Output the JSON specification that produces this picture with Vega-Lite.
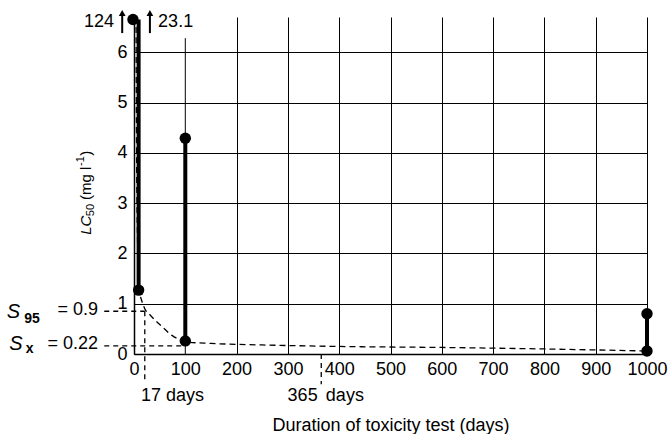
{
  "$schema": "https://vega.github.io/schema/vega-lite/v6.json",
  "autosize": "none",
  "width": 513,
  "height": 337,
  "padding": {"left": 134, "top": 17, "right": 21, "bottom": 80},
  "background": "white",
  "config": {
    "view": {"stroke": null},
    "font": "Liberation Sans",
    "text": {"font": "Liberation Sans", "color": "black"}
  },
  "datasets": {
    "curve": [
      {"day": 4, "lc": 6.7}, {"day": 5, "lc": 4.0}, {"day": 7, "lc": 2.2}, {"day": 10, "lc": 1.3},
      {"day": 16, "lc": 1.03}, {"day": 21, "lc": 0.9}, {"day": 31, "lc": 0.78}, {"day": 55, "lc": 0.54},
      {"day": 74, "lc": 0.37}, {"day": 90, "lc": 0.28}, {"day": 100, "lc": 0.24}, {"day": 150, "lc": 0.21},
      {"day": 250, "lc": 0.18}, {"day": 400, "lc": 0.15}, {"day": 600, "lc": 0.13}, {"day": 800, "lc": 0.1},
      {"day": 1000, "lc": 0.06}
    ],
    "bars": [
      {"day": 9, "lo": 1.27, "hi": 6.65},
      {"day": 100, "lo": 0.26, "hi": 4.29},
      {"day": 1000, "lo": 0.06, "hi": 0.8}
    ],
    "grid100": [
      {"day": 100, "lo": 0, "hi": 6.28}
    ],
    "points": [
      {"day": -2, "lc": 6.65}, {"day": 9, "lc": 1.27}, {"day": 100, "lc": 0.26},
      {"day": 100, "lc": 4.29}, {"day": 1000, "lc": 0.06}, {"day": 1000, "lc": 0.8}
    ],
    "refs": [
      {"x1": -58, "x2": 21, "y1": 0.85, "y2": 0.85},
      {"x1": 21, "x2": 21, "y1": 0.85, "y2": -0.58},
      {"x1": -58, "x2": 100, "y1": 0.16, "y2": 0.16},
      {"x1": 365, "x2": 365, "y1": 0.0, "y2": -0.6}
    ],
    "arrows": [
      {"day": -23, "lo": 6.38, "hi": 6.78},
      {"day": 31, "lo": 6.38, "hi": 6.78}
    ],
    "txtLeft": [
      {"day": 47, "val": 6.6, "label": "23.1"},
      {"day": 13.6, "val": -0.84, "label": "17 days"},
      {"day": 374, "val": -0.84, "label": "days"}
    ],
    "txtRight": [
      {"day": -39, "val": 6.6, "label": "124"},
      {"day": 358, "val": -0.84, "label": "365"},
      {"day": -70, "val": 0.875, "label": "= 0.9"},
      {"day": -70, "val": 0.2, "label": "= 0.22"}
    ],
    "txtItalic": [
      {"day": -248, "val": 0.84, "label": "S"},
      {"day": -243, "val": 0.2, "label": "S"}
    ],
    "txtSub": [
      {"day": -214, "val": 0.7, "label": "95"},
      {"day": -211, "val": 0.1, "label": "x"}
    ],
    "rotItalic": [{"day": -93.6, "val": 2.37, "label": "LC"}],
    "rotNormal": [
      {"day": -93.6, "val": 3.06, "label": "(mg l"},
      {"day": -93.6, "val": 3.94, "label": ")"}
    ],
    "rotSmall": [
      {"day": -84, "val": 2.74, "label": "50"},
      {"day": -103, "val": 3.74, "label": "-1"}
    ]
  },
  "encoding": {
    "x": {
      "field": "day", "type": "quantitative",
      "scale": {"domain": [0, 1000], "nice": false, "zero": false},
      "axis": {
        "values": [0, 100, 200, 300, 400, 500, 600, 700, 800, 900, 1000],
        "format": "d",
        "labelOverlap": false, "labelFlush": false, "labelBound": false,
        "title": "Duration of toxicity test (days)",
        "titleFontSize": 18, "titleFontWeight": "normal", "titleColor": "black",
        "titleFont": "Liberation Sans", "titlePadding": 38,
        "labelFontSize": 18, "labelColor": "black", "labelFont": "Liberation Sans",
        "labelPadding": 6, "ticks": false,
        "grid": true,
        "gridColor": {"condition": {"test": "datum.value === 100", "value": "transparent"}, "value": "black"},
        "gridWidth": 1, "gridOpacity": 1,
        "domainColor": "black", "domainWidth": 1.5
      }
    }
  },
  "layer": [
    {
      "data": {"name": "curve"},
      "mark": {"type": "line", "color": "black", "strokeWidth": 1.3, "strokeDash": [6, 4], "interpolate": "monotone"},
      "encoding": {
        "y": {
          "field": "lc", "type": "quantitative",
          "scale": {"domain": [0, 6.7], "nice": false, "zero": false},
          "axis": {
            "values": [0, 1, 2, 3, 4, 5, 6], "title": null,
            "labelOverlap": false, "labelFlush": false,
            "labelFontSize": 18, "labelColor": "black", "labelFont": "Liberation Sans",
            "labelPadding": 7, "ticks": false,
            "grid": true, "gridColor": "black", "gridWidth": 1, "gridOpacity": 1,
            "domainColor": "black", "domainWidth": 1.5
          }
        }
      }
    },
    {
      "data": {"name": "grid100"},
      "mark": {"type": "rule", "color": "black", "strokeWidth": 1},
      "encoding": {
        "y": {"field": "lo", "type": "quantitative"},
        "y2": {"field": "hi"}
      }
    },
    {
      "data": {"name": "refs"},
      "mark": {"type": "rule", "color": "black", "strokeWidth": 1.3, "strokeDash": [5, 4]},
      "encoding": {
        "x": {"field": "x1", "type": "quantitative"},
        "x2": {"field": "x2"},
        "y": {"field": "y1", "type": "quantitative"},
        "y2": {"field": "y2"}
      }
    },
    {
      "data": {"name": "bars"},
      "mark": {"type": "rule", "color": "black", "strokeWidth": 4},
      "encoding": {
        "y": {"field": "lo", "type": "quantitative"},
        "y2": {"field": "hi"}
      }
    },
    {
      "data": {"name": "points"},
      "mark": {"type": "circle", "color": "black", "opacity": 1, "size": 130},
      "encoding": {
        "y": {"field": "lc", "type": "quantitative"}
      }
    },
    {
      "data": {"name": "arrows"},
      "mark": {"type": "rule", "color": "black", "strokeWidth": 2},
      "encoding": {
        "y": {"field": "lo", "type": "quantitative"},
        "y2": {"field": "hi"}
      }
    },
    {
      "data": {"name": "arrows"},
      "mark": {"type": "point", "shape": "triangle-up", "filled": true, "color": "black", "opacity": 1, "size": 45},
      "encoding": {
        "y": {"field": "hi", "type": "quantitative"}
      }
    },
    {
      "data": {"name": "txtLeft"},
      "mark": {"type": "text", "align": "left", "baseline": "middle", "fontSize": 18},
      "encoding": {
        "y": {"field": "val", "type": "quantitative"},
        "text": {"field": "label"}
      }
    },
    {
      "data": {"name": "txtRight"},
      "mark": {"type": "text", "align": "right", "baseline": "middle", "fontSize": 18},
      "encoding": {
        "y": {"field": "val", "type": "quantitative"},
        "text": {"field": "label"}
      }
    },
    {
      "data": {"name": "txtItalic"},
      "mark": {"type": "text", "align": "left", "baseline": "middle", "fontSize": 20, "fontStyle": "italic"},
      "encoding": {
        "y": {"field": "val", "type": "quantitative"},
        "text": {"field": "label"}
      }
    },
    {
      "data": {"name": "txtSub"},
      "mark": {"type": "text", "align": "left", "baseline": "middle", "fontSize": 14, "fontWeight": "bold"},
      "encoding": {
        "y": {"field": "val", "type": "quantitative"},
        "text": {"field": "label"}
      }
    },
    {
      "data": {"name": "rotItalic"},
      "mark": {"type": "text", "align": "left", "baseline": "middle", "fontSize": 15, "fontStyle": "italic", "angle": 270},
      "encoding": {
        "y": {"field": "val", "type": "quantitative"},
        "text": {"field": "label"}
      }
    },
    {
      "data": {"name": "rotNormal"},
      "mark": {"type": "text", "align": "left", "baseline": "middle", "fontSize": 15, "angle": 270},
      "encoding": {
        "y": {"field": "val", "type": "quantitative"},
        "text": {"field": "label"}
      }
    },
    {
      "data": {"name": "rotSmall"},
      "mark": {"type": "text", "align": "left", "baseline": "middle", "fontSize": 11, "angle": 270},
      "encoding": {
        "y": {"field": "val", "type": "quantitative"},
        "text": {"field": "label"}
      }
    }
  ]
}
